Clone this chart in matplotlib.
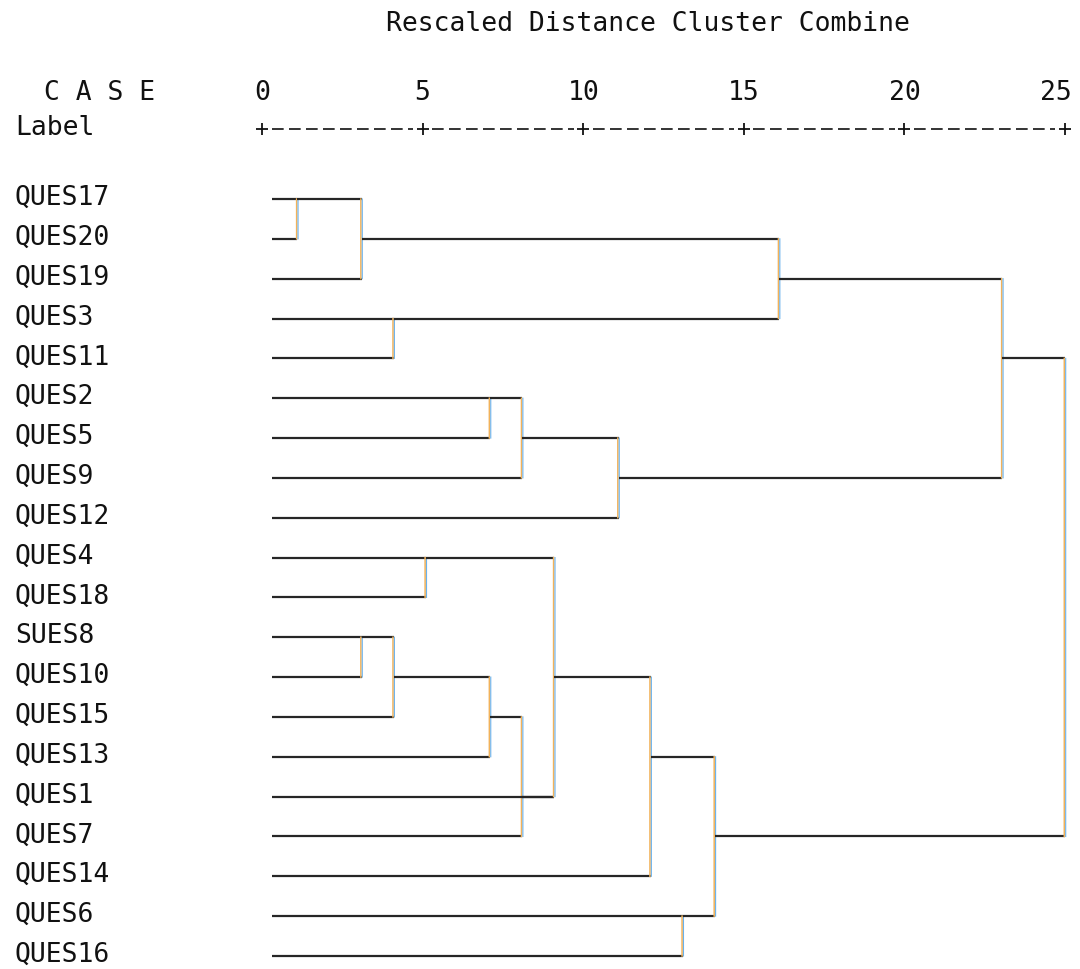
import matplotlib
matplotlib.use("Agg")
import matplotlib.pyplot as plt
from matplotlib.transforms import offset_copy

# case labels, top to bottom as they appear in the dendrogram
labels = ["QUES17", "QUES20", "QUES19", "QUES3", "QUES11", "QUES2", "QUES5",
          "QUES9", "QUES12", "QUES4", "QUES18", "SUES8", "QUES10", "QUES15",
          "QUES13", "QUES1", "QUES7", "QUES14", "QUES6", "QUES16"]

# merges: children are node ids (0-19 leaves, 20+ earlier merges)
merge_children = [(0, 1), (20, 2), (3, 4), (21, 22), (5, 6), (24, 7), (25, 8),
                  (23, 26), (9, 10), (11, 12), (29, 13), (30, 14), (31, 16),
                  (28, 15, 32), (33, 17), (18, 19), (34, 35), (27, 36)]
merge_dist = [1.1, 3.1, 4.1, 16.1, 7.1, 8.1, 11.1, 23.05, 5.1, 3.1, 4.1, 7.1,
              8.1, 9.1, 12.1, 13.1, 14.1, 25.0]
merge_row = [0, 1, 3, 2, 5, 6, 7, 4, 9, 11, 12, 13, 15, 12, 14, 18, 16, 4]

ticks = [0, 5, 10, 15, 20, 25]
leaf_start = 0.3

plt.rcParams['font.family'] = ['DejaVu Sans Mono']
fig = plt.figure(figsize=(10.8, 9.7), dpi=100)
ax = fig.add_axes([0, 0, 1, 1])
ax.set_xlim(-8.157, 25.467)
ax.set_ylim(19.327, -5.02)
ax.axis("off")

# node positions: (row, start distance)
rows = list(range(len(labels)))
starts = [leaf_start] * len(labels)

hcol = "#262626"
vcol_l = "#f2b25a"
vcol_r = "#69b1ec"
left_tr = offset_copy(ax.transData, fig=fig, x=-0.7, y=0, units="dots")
right_tr = offset_copy(ax.transData, fig=fig, x=0.7, y=0, units="dots")

for kids, d, r in zip(merge_children, merge_dist, merge_row):
    kid_rows = [rows[k] for k in kids]
    for k in kids:
        ax.plot([starts[k], d], [rows[k], rows[k]], color=hcol, lw=1.6,
                solid_capstyle="butt")
    ax.plot([d, d], [min(kid_rows), max(kid_rows)], color=vcol_l, lw=1.1,
            transform=left_tr, snap=False)
    ax.plot([d, d], [min(kid_rows), max(kid_rows)], color=vcol_r, lw=0.8,
            transform=right_tr, snap=False)
    rows.append(r)
    starts.append(d)

fs = 19
for i, lab in enumerate(labels):
    ax.text(-7.69, i - 0.05, lab, fontsize=fs, ha="left", va="center", color="#111")

# header
ax.text(12.0, -4.42, "Rescaled Distance Cluster Combine", fontsize=fs,
        ha="center", va="center", color="#111")
ax.text(-6.8, -2.68, "C A S E", fontsize=fs, ha="left", va="center", color="#111")
ax.text(-7.69, -1.8, "Label", fontsize=fs, ha="left", va="center", color="#111")
for t in ticks:
    if t == 25:
        ax.text(t + 0.2, -2.68, str(t), fontsize=fs, ha="right", va="center", color="#111")
    else:
        ax.text(t, -2.68, str(t), fontsize=fs, ha="center", va="center", color="#111")

# ruler: dashes between ticks, plus signs on the ticks
for a, b in zip(ticks[:-1], ticks[1:]):
    ax.plot([a + 0.3, b - 0.3], [-1.76, -1.76], color="#111", lw=1.2,
            dashes=[7, 3.2])
ax.plot(ticks, [-1.76] * len(ticks), ls="none", marker="+", ms=9, mew=1.3,
        color="#111")

fig.savefig("out.png", dpi=100, facecolor="white")
